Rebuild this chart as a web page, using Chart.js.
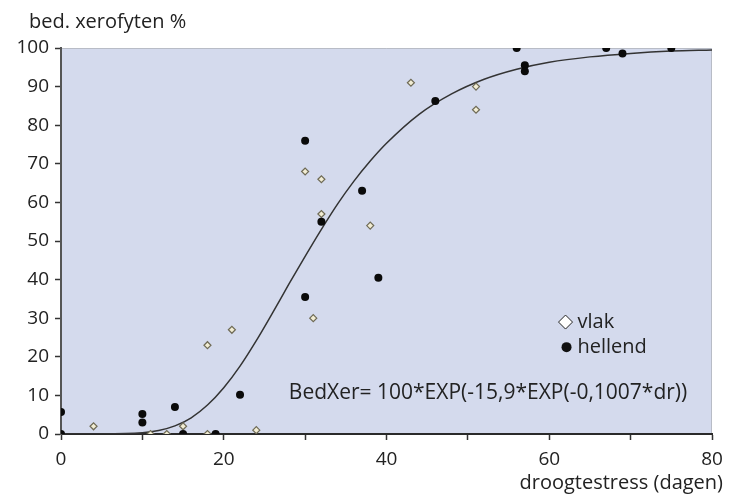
<!DOCTYPE html>
<html>
<head>
<meta charset="utf-8">
<script src="https://cdn.jsdelivr.net/npm/chart.js@4.4.1/dist/chart.umd.min.js"></script>
<style>
  body { margin: 0; background: #fff; }
  #wrap { width: 737px; height: 494px; position: relative; }
</style>
</head>
<body>
<div id="wrap"><canvas id="chart"></canvas></div>
<script>
// vlak (open diamonds)
const vlakX = [4, 11, 13, 15, 18, 18, 21, 24, 30, 31, 32, 32, 38, 43, 51, 51];
const vlakY = [2, 0, 0, 2, 23, 0, 27, 1, 68, 30, 66, 57, 54, 91, 90, 84];

// hellend (filled dots)
const hellendX = [0, 0, 10, 10, 14, 15, 19, 22, 30, 30, 32, 37, 39, 46, 56, 57, 57, 67, 69, 75];
const hellendY = [0, 5.7, 5.2, 3, 7, 0, 0, 10.2, 76, 35.5, 55, 63, 40.5, 86.3, 100, 95.5, 94, 100, 98.6, 100];

// fitted curve
const curveX = [0, 5, 10, 12, 14, 16, 18, 20, 22, 24, 26, 28, 30, 32, 34, 36, 38, 40, 44, 48, 52, 56, 60, 65, 70, 75, 80];
const curveY = [0, 0, 0.3, 0.9, 2.1, 4.2, 7.5, 12, 17.6, 24.2, 31.4, 38.8, 46, 53, 59.6, 65.5, 70.7, 75.3, 82.8, 88.1, 91.9, 94.5, 96.3, 97.7, 98.6, 99.2, 99.5];

const xTicks = [0, 20, 40, 60, 80];
const yTicks = [0, 10, 20, 30, 40, 50, 60, 70, 80, 90, 100];

const legendNames = ['vlak', 'hellend'];
const formulaText = 'BedXer= 100*EXP(-15,9*EXP(-0,1007*dr))';
const xTitle = 'droogtestress (dagen)';
const yTitle = 'bed. xerofyten %';

const FONT = '"Open Sans", sans-serif';
const TXT = '#222';

function toPoints(xs, ys) {
    return xs.map((x, i) => ({ x: x, y: ys[i] }));
}

const decor = {
    id: 'decor',
    beforeDraw(chart) {
        const { ctx, chartArea: a } = chart;
        ctx.save();
        ctx.fillStyle = '#d4daed';
        ctx.fillRect(a.left, a.top, a.right - a.left, a.bottom - a.top);
        ctx.strokeStyle = '#b8bcc6';
        ctx.lineWidth = 1;
        ctx.beginPath();
        ctx.moveTo(a.left, a.top + 0.5);
        ctx.lineTo(a.right - 0.5, a.top + 0.5);
        ctx.lineTo(a.right - 0.5, a.bottom);
        ctx.stroke();
        ctx.restore();
    },
    afterDraw(chart) {
        const { ctx, scales } = chart;
        const xs = scales.x, ys = scales.y;
        ctx.save();
        ctx.fillStyle = TXT;
        ctx.textBaseline = 'middle';

        // axis titles
        ctx.font = '20px ' + FONT;
        ctx.textAlign = 'left';
        ctx.fillText(yTitle, 29, 22);
        ctx.textAlign = 'right';
        ctx.fillText(xTitle, 723, 483);

        // formula
        ctx.font = '21px ' + FONT;
        ctx.textAlign = 'left';
        ctx.fillText(formulaText, xs.getPixelForValue(28.0), ys.getPixelForValue(10.5));

        // legend
        const lx = xs.getPixelForValue(62.0);
        const ly1 = ys.getPixelForValue(29.0);
        const ly2 = ys.getPixelForValue(22.5);
        ctx.fillStyle = '#fff';
        ctx.strokeStyle = '#222';
        ctx.lineWidth = 1;
        ctx.beginPath();
        ctx.moveTo(lx, ly1 - 7);
        ctx.lineTo(lx + 7, ly1);
        ctx.lineTo(lx, ly1 + 7);
        ctx.lineTo(lx - 7, ly1);
        ctx.closePath();
        ctx.fill();
        ctx.stroke();
        ctx.fillStyle = '#111';
        ctx.beginPath();
        ctx.arc(lx + 1, ly2, 5, 0, Math.PI * 2);
        ctx.fill();
        ctx.fillStyle = TXT;
        ctx.font = '20px ' + FONT;
        ctx.fillText(legendNames[0], lx + 12, ly1);
        ctx.fillText(legendNames[1], lx + 12, ly2);
        ctx.restore();
    }
};

new Chart(document.getElementById('chart'), {
    type: 'scatter',
    data: {
        datasets: [
            {
                label: 'curve',
                type: 'line',
                data: toPoints(curveX, curveY),
                borderColor: '#333',
                borderWidth: 1.5,
                pointRadius: 0,
                cubicInterpolationMode: 'monotone',
                fill: false,
                order: 3
            },
            {
                label: legendNames[0],
                data: toPoints(vlakX, vlakY),
                pointStyle: 'rectRot',
                pointRadius: 3.5,
                backgroundColor: '#f2edd4',
                borderColor: '#6e6a55',
                borderWidth: 1.2,
                order: 2
            },
            {
                label: legendNames[1],
                data: toPoints(hellendX, hellendY),
                pointStyle: 'circle',
                pointRadius: 4,
                backgroundColor: '#0a0a0a',
                borderColor: '#0a0a0a',
                borderWidth: 0,
                order: 1
            }
        ]
    },
    options: {
        responsive: true,
        maintainAspectRatio: false,
        animation: false,
        layout: { padding: { left: 0, top: 48, right: 25, bottom: 0 } },
        plugins: {
            legend: { display: false },
            tooltip: { enabled: false }
        },
        scales: {
            x: {
                type: 'linear',
                min: 0,
                max: 80,
                afterFit(scale) { scale.height = 60; },
                afterBuildTicks(scale) {
                    scale.ticks = [];
                    for (let v = 0; v <= 80; v += 10) scale.ticks.push({ value: v });
                },
                ticks: {
                    color: TXT,
                    font: { family: FONT, size: 19 },
                    padding: 8,
                    maxRotation: 0,
                    callback: v => xTicks.includes(v) ? String(v) : ''
                },
                grid: {
                    drawOnChartArea: false,
                    drawTicks: true,
                    tickLength: 6,
                    tickColor: '#333',
                    tickWidth: 1.5
                },
                border: { display: true, color: '#2a2a2a', width: 2 }
            },
            y: {
                type: 'linear',
                min: 0,
                max: 100,
                afterFit(scale) { scale.width = 61; },
                afterBuildTicks(scale) {
                    scale.ticks = yTicks.map(v => ({ value: v }));
                },
                ticks: {
                    color: TXT,
                    font: { family: FONT, size: 19 },
                    padding: 6
                },
                grid: {
                    drawOnChartArea: false,
                    drawTicks: true,
                    tickLength: 6,
                    tickColor: '#333',
                    tickWidth: 1.5
                },
                border: { display: true, color: '#555', width: 2 }
            }
        }
    },
    plugins: [decor]
});
</script>
</body>
</html>
